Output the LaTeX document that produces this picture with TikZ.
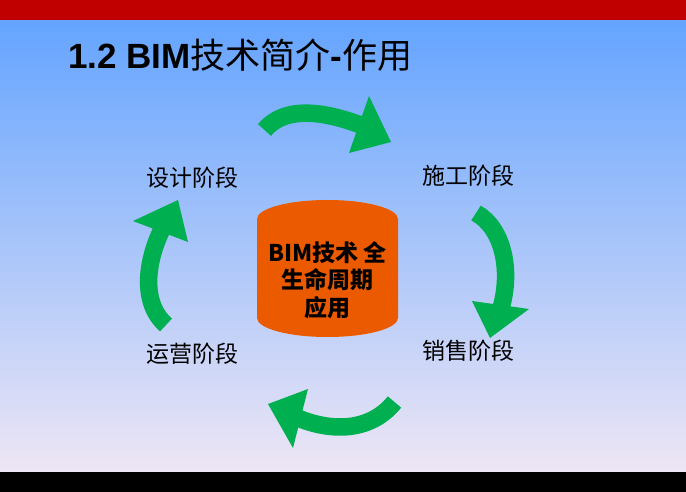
\documentclass[tikz,border=0pt]{standalone}
\usepackage{fontspec}
\setmainfont{Liberation Sans}
\newfontfamily\cjk{Noto Sans CJK SC}
\definecolor{barred}{HTML}{C00000}
\definecolor{bgtop}{HTML}{64A4FF}
\definecolor{bgmid}{HTML}{94C2F8}
\definecolor{bgbot}{HTML}{EEE6F5}
\definecolor{arrowgreen}{HTML}{00B050}
\definecolor{coreorange}{HTML}{EC5A00}

\begin{document}
\begin{tikzpicture}[x=1pt, y=-1pt,
    shaft/.style={draw=arrowgreen, line width=17.5pt},
    head/.style={fill=arrowgreen},
    stage/.style={inner sep=0pt, font=\cjk\fontsize{23}{26}\selectfont}
]
  \useasboundingbox (0,0) rectangle (686,492);

  % slide background and bars
  \shade[top color=bgtop, middle color=bgmid, bottom color=bgbot] (0,20) rectangle (686,472);
  \fill[barred] (0,0) rectangle (686,20);
  \fill[black] (0,472) rectangle (686,492);

  \node[anchor=west, inner sep=0pt, font=\fontsize{35}{40}\selectfont] (title) at (68,55)
    {\bfseries 1.2 BIM{\cjk\mdseries 技术简介}-{\cjk\mdseries 作用}};

  % centre cylinder
  \fill[coreorange] (257,219) arc[start angle=180, end angle=0, x radius=70.5pt, y radius=19pt]
    -- (398,318) arc[start angle=0, end angle=-180, x radius=70.5pt, y radius=19pt] -- cycle;
  \node[align=center, font=\cjk\bfseries\fontsize{23}{27.5}\selectfont] (core) at (327.5,280)
    {BIM技术 全\\生命周期\\应用};

  % stages
  \node[stage] (design) at (192.5,177.5) {设计阶段};
  \node[stage] (build) at (468,176) {施工阶段};
  \node[stage] (sales) at (468,351) {销售阶段};
  \node[stage] (operate) at (192.5,354) {运营阶段};

  % cycle arrows
  \draw[shaft] (264.5,130) .. controls (288,102) and (334,115) .. (362,125.5);
  \fill[head] (369,96) -- (391,142) -- (349,153) -- cycle;

  \draw[shaft] (476,213) .. controls (503,228) and (512,270) .. (501,308);
  \fill[head] (472,301) -- (529,309) -- (490,338) -- cycle;

  \draw[shaft] (394.5,402) .. controls (372,430) and (335,433) .. (298.6,418.3);
  \fill[head] (308,389) -- (293,448) -- (268,404) -- cycle;

  \draw[shaft] (166,325) .. controls (141,303) and (146,262) .. (162,229.2);
  \fill[head] (133,221) -- (188,242) -- (178,200) -- cycle;
\end{tikzpicture}
\end{document}
